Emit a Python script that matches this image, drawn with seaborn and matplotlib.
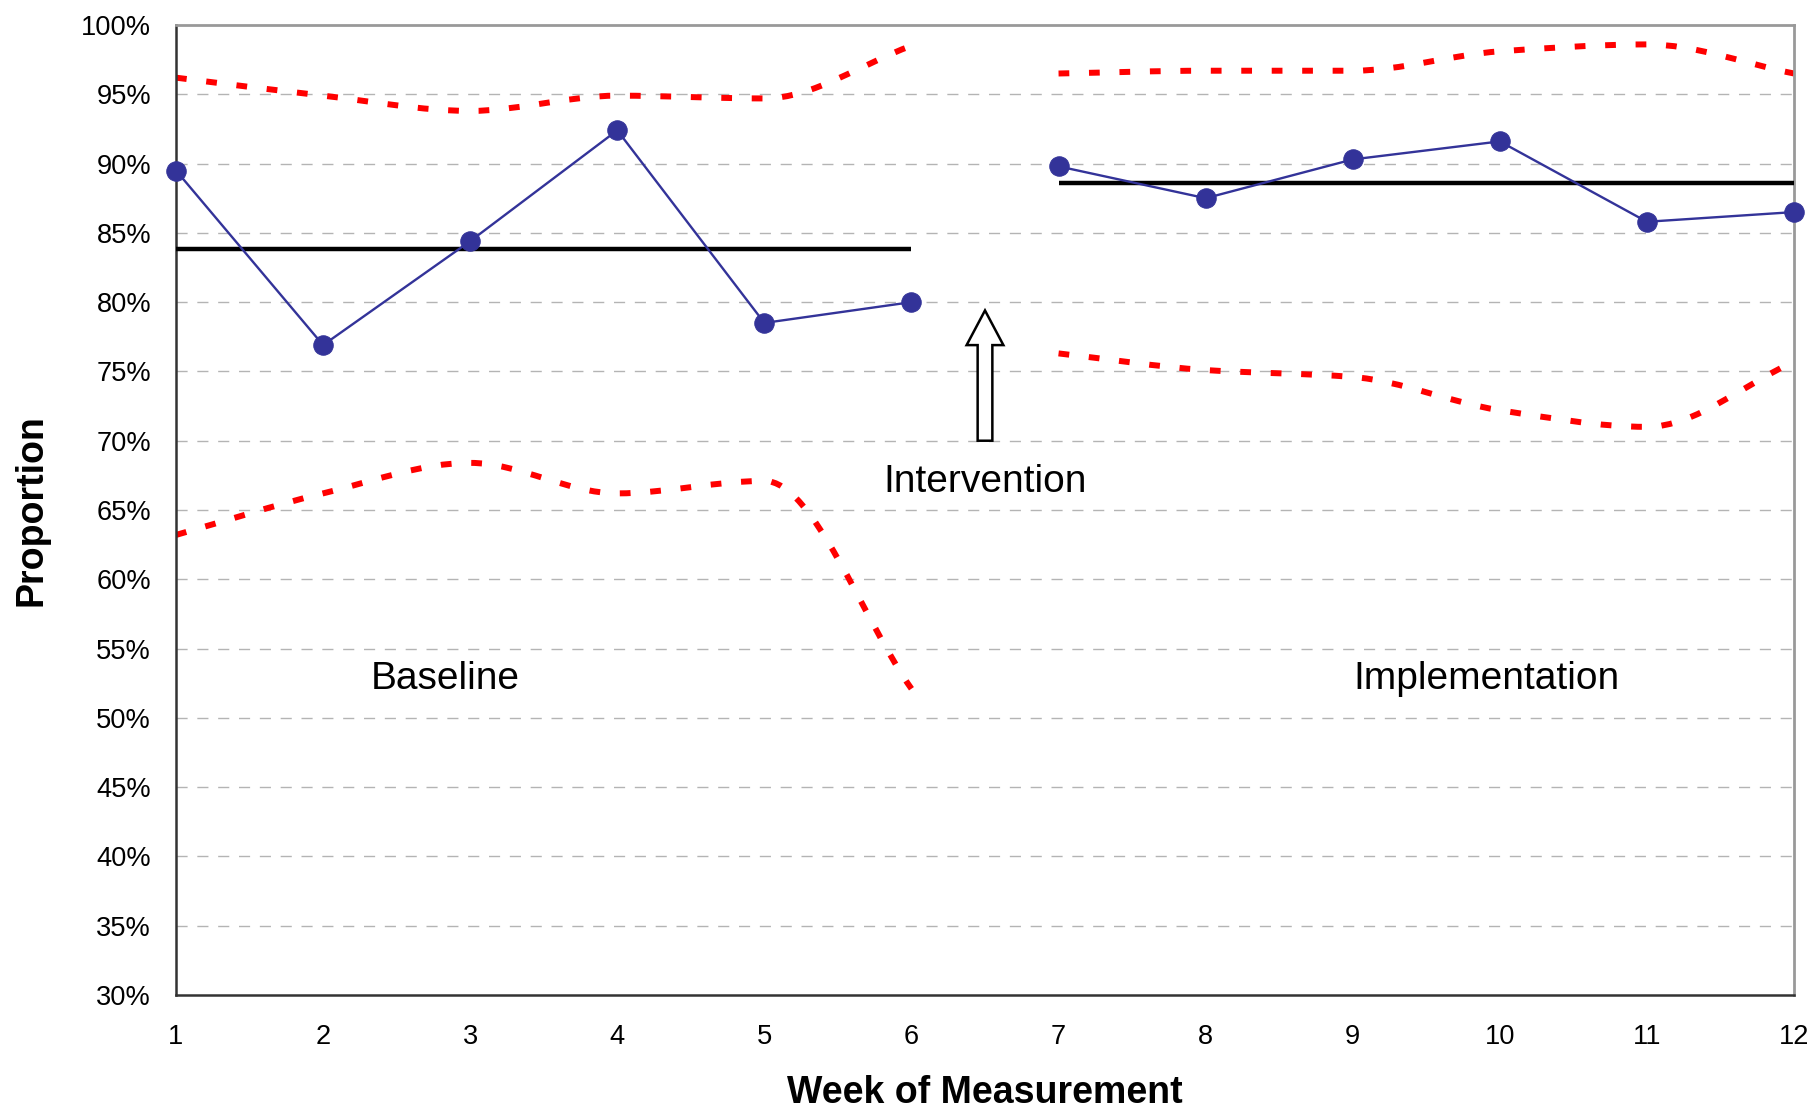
import numpy as np
import pandas as pd
import matplotlib
matplotlib.use("Agg")
import matplotlib.pyplot as plt
from matplotlib.path import Path
from matplotlib.patches import PathPatch
from matplotlib.ticker import FuncFormatter
from matplotlib import font_manager
import seaborn as sns

# ---------------- data ----------------
weeks_baseline = [1, 2, 3, 4, 5, 6]
weeks_impl = [7, 8, 9, 10, 11, 12]
prop_baseline = [89.5, 76.9, 84.4, 92.4, 78.5, 80.0]
prop_impl = [89.8, 87.5, 90.3, 91.6, 85.8, 86.5]
center_baseline = 83.8
center_impl = 88.6
ucl_baseline = [96.2, 94.9, 93.8, 94.9, 94.7, 98.5]
lcl_baseline = [63.2, 66.2, 68.4, 66.2, 67.1, 52.1]
ucl_impl = [96.5, 96.7, 96.7, 98.1, 98.6, 96.5]
lcl_impl = [76.3, 75.1, 74.6, 72.2, 71.0, 75.7]
x_ticks = list(range(1, 13))
y_ticks = list(range(30, 101, 5))

sns.set_style("white")
plt.rcParams["font.family"] = ["Liberation Sans", "DejaVu Sans"]
plt.rcParams["text.color"] = "black"
plt.rcParams["axes.labelcolor"] = "black"

# condensed face for the regular text (falls back if not available)
names = {f.name for f in font_manager.fontManager.ttflist}
narrow = "Liberation Sans Narrow" if "Liberation Sans Narrow" in names else None
if narrow:
    reg_family = [narrow, "Liberation Sans", "DejaVu Sans"]
    tick_size, ann_size = 24, 33
else:
    reg_family = ["Liberation Sans", "DejaVu Sans"]
    tick_size, ann_size = 19.6, 28

fig = plt.figure(figsize=(18.14, 11.12), dpi=100)
ax = fig.add_axes([176 / 1814, 1 - 995 / 1112, (1794 - 176) / 1814, (995 - 25) / 1112])

ax.set_xlim(1, 12)
ax.set_ylim(30, 100)

# grid
for yv in y_ticks[1:-1]:
    ax.axhline(yv, color="#b4b4b4", lw=1.0, ls=(0, (8, 7)), zorder=0)


def smooth_path(xs, ys):
    """Smoothed curve through the points (monotone cubic Hermite -> Bezier)."""
    x = np.asarray(xs, float)
    y = np.asarray(ys, float)
    n = len(x)
    h = np.diff(x)
    d = np.diff(y) / h
    m = np.zeros(n)
    m[0], m[-1] = d[0], d[-1]
    for i in range(1, n - 1):
        if d[i - 1] * d[i] > 0:
            w1 = 2 * h[i] + h[i - 1]
            w2 = h[i] + 2 * h[i - 1]
            m[i] = (w1 + w2) / (w1 / d[i - 1] + w2 / d[i])
        else:
            m[i] = 0.0
    verts = [(x[0], y[0])]
    codes = [Path.MOVETO]
    for i in range(n - 1):
        c1 = (x[i] + h[i] / 3, y[i] + m[i] * h[i] / 3)
        c2 = (x[i + 1] - h[i] / 3, y[i + 1] - m[i + 1] * h[i] / 3)
        verts += [c1, c2, (x[i + 1], y[i + 1])]
        codes += [Path.CURVE4] * 3
    return Path(verts, codes)


for xs, ys in [(weeks_baseline, ucl_baseline), (weeks_baseline, lcl_baseline),
               (weeks_impl, ucl_impl), (weeks_impl, lcl_impl)]:
    patch = PathPatch(smooth_path(xs, ys), fill=False, edgecolor="#ff0000",
                      lw=4.3, linestyle=(0, (1.8, 3.3)), capstyle="butt",
                      transform=ax.transData, zorder=2)
    ax.add_patch(patch)

# center lines
cl = pd.DataFrame({
    "week": [weeks_baseline[0], weeks_baseline[-1], weeks_impl[0], weeks_impl[-1]],
    "value": [center_baseline, center_baseline, center_impl, center_impl],
    "phase": ["Baseline", "Baseline", "Implementation", "Implementation"],
})
for ph, sub in cl.groupby("phase"):
    sns.lineplot(data=sub, x="week", y="value", ax=ax, color="black", lw=3.2,
                 solid_capstyle="butt", zorder=3, legend=False)

# proportions
for xs, ys in [(weeks_baseline, prop_baseline), (weeks_impl, prop_impl)]:
    df = pd.DataFrame({"week": xs, "value": ys})
    sns.lineplot(data=df, x="week", y="value", ax=ax, color="#333399", lw=1.7,
                 marker="o", markersize=14, markeredgecolor="#333399",
                 markerfacecolor="#333399", zorder=4, clip_on=False, legend=False)

# intervention arrow
ax.arrow(6.5, 70, 0, 9.4, width=0.1, head_width=0.25, head_length=2.5,
         length_includes_head=True, fc="white", ec="black", lw=1.8, zorder=5)

ax.text(2.83, 52.8, "Baseline", fontsize=ann_size, ha="center", va="center",
        family=reg_family)
ax.text(9.91, 52.8, "Implementation", fontsize=ann_size, ha="center", va="center",
        family=reg_family)
ax.text(6.5, 67.0, "Intervention", fontsize=ann_size, ha="center", va="center",
        family=reg_family)

ax.set_xticks(x_ticks)
ax.set_yticks(y_ticks)
ax.yaxis.set_major_formatter(FuncFormatter(lambda v, p: f"{int(round(v))}%"))
ax.tick_params(axis="both", direction="out", length=7, width=1.5, color="#333333",
               labelsize=tick_size, labelcolor="black")
ax.tick_params(axis="y", pad=11)
ax.tick_params(axis="x", pad=14)
for lab in ax.get_xticklabels() + ax.get_yticklabels():
    lab.set_family(reg_family)

for side in ["left", "bottom"]:
    ax.spines[side].set_color("#333333")
    ax.spines[side].set_linewidth(1.8)
for side in ["top", "right"]:
    ax.spines[side].set_visible(True)
    ax.spines[side].set_color("#999999")
    ax.spines[side].set_linewidth(2)

ax.set_xlabel("Week of Measurement", fontsize=27, fontweight="bold", labelpad=18)
ax.set_ylabel("Proportion", fontsize=27, fontweight="bold", labelpad=23)

fig.savefig("out.png", dpi=100)
